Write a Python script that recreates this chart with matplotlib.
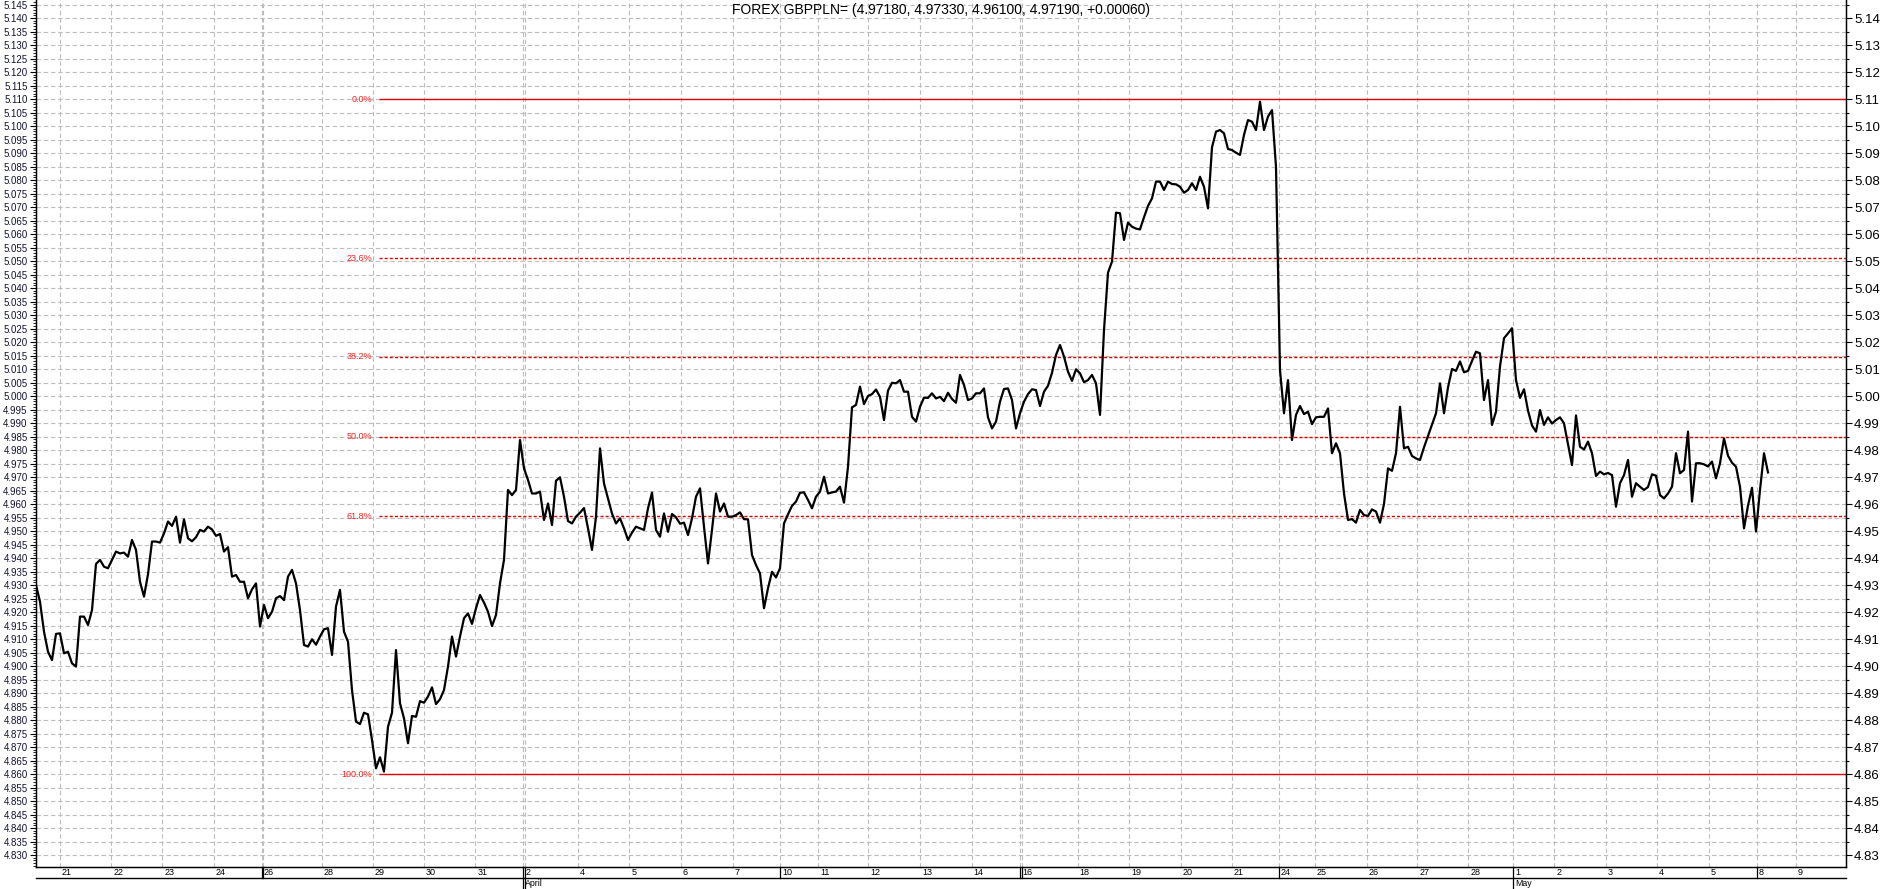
import numpy as np
import matplotlib.pyplot as plt
import matplotlib.transforms as mtrans
from matplotlib.ticker import MultipleLocator, FormatStrFormatter

plt.rcParams['font.family'] = ['Liberation Sans', 'DejaVu Sans']

title = 'FOREX GBPPLN= (4.97180, 4.97330, 4.96100, 4.97190, +0.00060)'

# close prices, one sample per bar
price = [
    4.9300, 4.9238, 4.9127, 4.9053, 4.9022, 4.9119, 4.9121, 4.9047, 4.9053, 4.9010,
    4.8998, 4.9183, 4.9183, 4.9152, 4.9207, 4.9378, 4.9393, 4.9368, 4.9362, 4.9393,
    4.9424, 4.9417, 4.9420, 4.9405, 4.9467, 4.9430, 4.9312, 4.9257, 4.9340, 4.9461,
    4.9461, 4.9457, 4.9491, 4.9535, 4.9519, 4.9553, 4.9457, 4.9543, 4.9473, 4.9462,
    4.9477, 4.9504, 4.9498, 4.9516, 4.9506, 4.9482, 4.9489, 4.9424, 4.9440, 4.9331,
    4.9337, 4.9312, 4.9312, 4.9251, 4.9284, 4.9306, 4.9146, 4.9226, 4.9177, 4.9201,
    4.9251, 4.9259, 4.9244, 4.9331, 4.9356, 4.9306, 4.9207, 4.9078, 4.9072, 4.9099,
    4.9079, 4.9109, 4.9136, 4.9140, 4.9041, 4.9220, 4.9282, 4.9127, 4.9090, 4.8911,
    4.8794, 4.8785, 4.8827, 4.8821, 4.8726, 4.8621, 4.8662, 4.8609, 4.8775, 4.8827,
    4.9059, 4.8862, 4.8806, 4.8714, 4.8815, 4.8812, 4.8870, 4.8864, 4.8887, 4.8921,
    4.8859, 4.8877, 4.8911, 4.8998, 4.9109, 4.9035, 4.9109, 4.9177, 4.9195, 4.9156,
    4.9214, 4.9263, 4.9235, 4.9201, 4.9148, 4.9189, 4.9306, 4.9393, 4.9652, 4.9633,
    4.9652, 4.9837, 4.9732, 4.9689, 4.9639, 4.9639, 4.9646, 4.9541, 4.9602, 4.9522,
    4.9686, 4.9699, 4.9627, 4.9537, 4.9528, 4.9553, 4.9568, 4.9585, 4.9510, 4.9430,
    4.9553, 4.9806, 4.9676, 4.9621, 4.9565, 4.9528, 4.9547, 4.9510, 4.9467, 4.9494,
    4.9516, 4.9510, 4.9504, 4.9584, 4.9642, 4.9504, 4.9479, 4.9565, 4.9497, 4.9563,
    4.9551, 4.9527, 4.9531, 4.9485, 4.9547, 4.9627, 4.9658, 4.9516, 4.9380, 4.9504,
    4.9639, 4.9572, 4.9602, 4.9553, 4.9553, 4.9559, 4.9569, 4.9544, 4.9543, 4.9411,
    4.9374, 4.9343, 4.9214, 4.9288, 4.9349, 4.9328, 4.9362, 4.9528, 4.9562, 4.9593,
    4.9609, 4.9642, 4.9643, 4.9615, 4.9584, 4.9627, 4.9646, 4.9701, 4.9639, 4.9643,
    4.9646, 4.9664, 4.9605, 4.9738, 4.9958, 4.9967, 5.0035, 4.9970, 5.0000, 5.0007,
    5.0024, 4.9997, 4.9911, 5.0020, 5.0049, 5.0047, 5.0059, 5.0016, 5.0016, 4.9923,
    4.9905, 4.9960, 4.9994, 4.9993, 5.0010, 4.9991, 4.9997, 4.9981, 5.0012, 4.9989,
    4.9975, 5.0078, 5.0041, 4.9985, 4.9991, 5.0010, 5.0010, 5.0028, 4.9921, 4.9880,
    4.9905, 4.9979, 5.0026, 5.0028, 4.9985, 4.9880, 4.9936, 4.9979, 5.0007, 5.0025,
    5.0022, 4.9963, 5.0016, 5.0038, 5.0086, 5.0152, 5.0189, 5.0146, 5.0090, 5.0056,
    5.0099, 5.0084, 5.0051, 5.0059, 5.0078, 5.0047, 4.9930, 5.0244, 5.0457, 5.0498,
    5.0679, 5.0677, 5.0578, 5.0642, 5.0627, 5.0620, 5.0617, 5.0662, 5.0704, 5.0732,
    5.0794, 5.0794, 5.0763, 5.0794, 5.0785, 5.0784, 5.0775, 5.0753, 5.0763, 5.0788,
    5.0763, 5.0812, 5.0775, 5.0695, 5.0921, 5.0979, 5.0985, 5.0973, 5.0915, 5.0911,
    5.0901, 5.0893, 5.0967, 5.1022, 5.1016, 5.0985, 5.1090, 5.0985, 5.1035, 5.1059,
    5.0849, 5.0096, 4.9936, 5.0059, 4.9837, 4.9930, 4.9963, 4.9933, 4.9942, 4.9896,
    4.9921, 4.9923, 4.9923, 4.9954, 4.9788, 4.9825, 4.9788, 4.9639, 4.9541, 4.9544,
    4.9531, 4.9578, 4.9559, 4.9556, 4.9580, 4.9572, 4.9531, 4.9600, 4.9732, 4.9723,
    4.9788, 4.9960, 4.9806, 4.9812, 4.9778, 4.9769, 4.9763, 4.9810, 4.9852, 4.9893,
    4.9936, 5.0047, 4.9936, 5.0032, 5.0100, 5.0093, 5.0128, 5.0088, 5.0093, 5.0130,
    5.0164, 5.0158, 4.9985, 5.0059, 4.9893, 4.9942, 5.0109, 5.0214, 5.0232, 5.0251,
    5.0059, 4.9993, 5.0025, 4.9946, 4.9891, 4.9868, 4.9948, 4.9893, 4.9921, 4.9898,
    4.9911, 4.9921, 4.9899, 4.9822, 4.9744, 4.9928, 4.9812, 4.9802, 4.9831, 4.9788,
    4.9704, 4.9720, 4.9710, 4.9715, 4.9707, 4.9590, 4.9677, 4.9707, 4.9763, 4.9627,
    4.9677, 4.9664, 4.9652, 4.9663, 4.9710, 4.9705, 4.9633, 4.9621, 4.9639, 4.9664,
    4.9788, 4.9714, 4.9726, 4.9868, 4.9609, 4.9751, 4.9751, 4.9747, 4.9739, 4.9757,
    4.9695, 4.9751, 4.9843, 4.9779, 4.9753, 4.9738, 4.9664, 4.9510, 4.9594, 4.9660,
    4.9498, 4.9652, 4.9788, 4.9717,
]

# day labels and the bar where each day starts
day_lab = ['21', '22', '23', '24', '26', '28', '29', '30', '31', '2', '4', '5', '6',
           '7', '10', '11', '12', '13', '14', '16', '18', '19', '20', '21', '24',
           '25', '26', '27', '28', '1', '2', '3', '4', '5', '8', '9']
day_bar = [5.9, 18.8, 31.6, 44.4, 56.4, 71.4, 84.2, 97.0, 109.8, 121.8, 135.4,
           148.3, 161.2, 174.2, 186.0, 195.6, 208.1, 221.1, 233.9, 246.0, 260.4,
           273.3, 286.2, 298.9, 310.75, 319.75, 332.7, 345.3, 358.1, 369.3, 379.6,
           392.5, 405.3, 418.25, 430.2, 440.0]
week_bar = [56.4, 121.8, 186.0, 246.0, 310.75, 369.3, 430.2]
double_bar = [56.4, 121.8, 246.0]
month_lab = ['April', 'May']
month_bar = [121.8, 369.3]

# fibonacci retracement from the low to the high
fib_low, fib_high = 4.860, 5.110
fib_pct = [0.0, 23.6, 38.2, 50.0, 61.8, 100.0]
fib_from = 85.8

W, H = 1883, 889
fig = plt.figure(figsize=(W / 100, H / 100), dpi=100)
ax = fig.add_axes([36 / W, 22 / H, 1810 / W, 867 / H])

x = np.arange(len(price))
xmax = 452.5
ymin, ymax = 4.82556, 5.14667

grid_kw = dict(color='#bdbdbd', linestyle=(0, (4, 2.5)), linewidth=0.8)
ax.grid(True, which='major', **grid_kw)
for b in double_bar:
    ax.axvline(b + 0.4, zorder=0.5, **grid_kw)

for p in fib_pct:
    lev = fib_high - (fib_high - fib_low) * p / 100
    ls = '-' if p in (0.0, 100.0) else (0, (2.2, 1.5))
    ax.hlines(lev, fib_from, xmax, color='#e00000', lw=1.0, linestyle=ls, zorder=2)
    ax.text(fib_from - 1.7, lev, f'{p:.1f}%', ha='right', va='center',
            color='#ff2020', fontsize=6.5, zorder=3)

ax.plot(x, price, color='black', lw=1.6, zorder=4)

ax.set_xlim(0, xmax)
ax.set_ylim(ymin, ymax)

ax.set_yticks(np.arange(4.830, 5.1451, 0.005))
ax.yaxis.set_major_formatter(FormatStrFormatter('%.3f'))
ax.yaxis.set_minor_locator(MultipleLocator(0.001))
ax.tick_params(axis='y', which='major', length=4.5, width=0.8, pad=1.5,
               labelsize=7.0, labelcolor='#141432')
ax.tick_params(axis='y', which='minor', length=2.2, width=0.6)

ax.set_xticks(day_bar, day_lab)
ax.tick_params(axis='x', length=0, pad=1.0, labelsize=6.5)
shift = mtrans.ScaledTranslation(2 / 100, 0, fig.dpi_scale_trans)
for lab in ax.get_xticklabels():
    lab.set_horizontalalignment('left')
    lab.set_transform(lab.get_transform() + shift)

ax.spines['top'].set_visible(False)
for s in ['left', 'right', 'bottom']:
    ax.spines[s].set_linewidth(1.0)

ax2 = ax.twinx()
ax2.set_ylim(ymin, ymax)
ax2.set_yticks(np.arange(4.83, 5.1401, 0.01))
ax2.yaxis.set_major_formatter(FormatStrFormatter('%.2f'))
ax2.yaxis.set_minor_locator(MultipleLocator(0.005))
ax2.tick_params(axis='y', which='major', length=4.5, width=0.8, pad=1.2, labelsize=9.5)
ax2.tick_params(axis='y', which='minor', length=2.5, width=0.8)
ax2.spines['top'].set_visible(False)

# date strip under the plot
xt = ax.get_xaxis_transform()
strip = -11 / 867
ax.plot([0, xmax], [strip, strip], color='black', lw=1.0, transform=xt, clip_on=False)
for b in week_bar:
    bottom = -22 / 867 if b in month_bar else strip
    ax.plot([b, b], [0, bottom], color='black', lw=0.9, transform=xt, clip_on=False)
    if b in double_bar:
        ax.plot([b + 0.4, b + 0.4], [0, bottom], color='black', lw=0.9,
                transform=xt, clip_on=False)
for lab, b in zip(month_lab, month_bar):
    ax.text(b + 0.4, -17 / 867, lab, transform=xt, ha='left', va='center',
            fontsize=6.3)

ax.text(0.5, 1 - 10 / 867, title, transform=ax.transAxes, ha='center', va='center',
        fontsize=10, zorder=5)

fig.savefig('out.png', dpi=100)
